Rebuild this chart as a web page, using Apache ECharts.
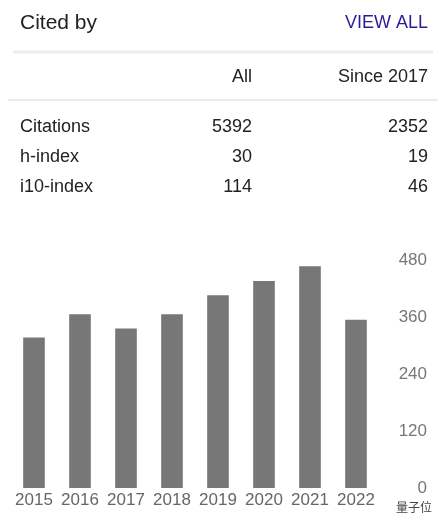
<!DOCTYPE html>
<html>
<head>
<meta charset="utf-8">
<script src="https://cdn.jsdelivr.net/npm/echarts@6/dist/echarts.min.js"></script>
<style>
  html, body { margin: 0; padding: 0; background: #fff; }
  #chart { width: 448px; height: 526px; }
</style>
</head>
<body>
<div id="chart"></div>
<script>
// citation summary table
const rowLabels = ['Citations', 'h-index', 'i10-index']
const allValues = [5392, 30, 114]
const sinceValues = [2352, 19, 46]

// citations per year
const years = ['2015', '2016', '2017', '2018', '2019', '2020', '2021', '2022']
const citations = [317, 366, 336, 366, 406, 436, 467, 354]
const yTicks = [0, 120, 240, 360, 480]

const font = '"Liberation Sans", Arial, sans-serif'
const textColor = '#222'

const graphics = [
  { type: 'text', x: 20, y: 23, style: { text: 'Cited by', font: '21px ' + font, fill: textColor, verticalAlign: 'middle' } },
  { type: 'text', x: 428, y: 23, style: { text: 'VIEW ALL', font: '18px ' + font, fill: '#2a1c96', align: 'right', verticalAlign: 'middle' } },
  { type: 'line', shape: { x1: 13, y1: 52, x2: 433, y2: 52 }, style: { stroke: '#ececec', lineWidth: 3 } },
  { type: 'text', x: 252, y: 77, style: { text: 'All', font: '18px ' + font, fill: textColor, align: 'right', verticalAlign: 'middle' } },
  { type: 'text', x: 428, y: 77, style: { text: 'Since 2017', font: '18px ' + font, fill: textColor, align: 'right', verticalAlign: 'middle' } },
  { type: 'line', shape: { x1: 8, y1: 100, x2: 438, y2: 100 }, style: { stroke: '#e4e4e4', lineWidth: 1.5 } },
  { type: 'text', x: 396, y: 507, style: { text: '量子位', font: '12px "Noto Sans CJK SC"', fill: '#444', verticalAlign: 'middle' } }
]

rowLabels.forEach(function(label, i) {
  const y = 127 + i * 30
  graphics.push({ type: 'text', x: 20, y: y, style: { text: label, font: '18px ' + font, fill: textColor, verticalAlign: 'middle' } })
  graphics.push({ type: 'text', x: 252, y: y, style: { text: String(allValues[i]), font: '18px ' + font, fill: textColor, align: 'right', verticalAlign: 'middle' } })
  graphics.push({ type: 'text', x: 428, y: y, style: { text: String(sinceValues[i]), font: '18px ' + font, fill: textColor, align: 'right', verticalAlign: 'middle' } })
})

const chart = echarts.init(document.getElementById('chart'))
chart.setOption({
  animation: false,
  graphic: graphics,
  grid: {
    left: 11,
    top: 260,
    width: 368,
    height: 228
  },
  xAxis: {
    type: 'category',
    data: years,
    axisLine: { show: false },
    axisTick: { show: false },
    axisLabel: {
      fontFamily: font,
      fontSize: 17,
      color: '#666',
      margin: 4,
      interval: 0
    }
  },
  yAxis: {
    type: 'value',
    position: 'right',
    min: yTicks[0],
    max: yTicks[yTicks.length - 1],
    interval: 120,
    splitLine: { show: false },
    axisLine: { show: false },
    axisTick: { show: false },
    axisLabel: {
      fontFamily: font,
      fontSize: 17,
      color: '#777',
      align: 'right',
      margin: 48
    }
  },
  series: [{
    type: 'bar',
    data: citations,
    barWidth: '47%',
    itemStyle: { color: '#777' }
  }]
})
</script>
</body>
</html>
